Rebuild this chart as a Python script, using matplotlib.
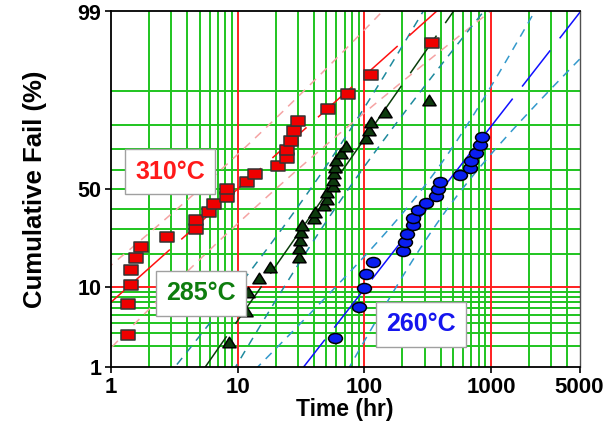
import matplotlib

matplotlib.use("Agg")
import matplotlib.pyplot as plt
import numpy as np
from matplotlib.path import Path as MPath
from matplotlib.ticker import NullLocator
from statistics import NormalDist

# --- data (time in hr, cumulative fail in %) ---
red_time = [1.37, 1.37, 1.45, 1.44, 1.57, 1.72, 2.79, 4.7, 4.7, 5.94, 6.47, 8.24, 8.24,
            11.9, 13.8, 21.0, 24.6, 24.6, 26.5, 28.1, 29.8, 51.8, 73.9, 113.5, 341]
red_pct = [2.8, 6.7, 10.6, 14.6, 18.5, 22.4, 26.4, 30.3, 34.3, 38.2, 42.1, 46.1, 50.0,
           53.9, 57.9, 61.8, 65.7, 69.7, 73.6, 77.6, 81.5, 85.4, 89.4, 93.3, 97.2]

grn_time = [8.54, 11.6, 12.0, 14.7, 17.9, 30.4, 30.4, 30.8, 31.7, 32.0, 40.2, 41.1, 48.4,
            50.5, 50.5, 56.3, 56.8, 58.0, 58.6, 59.8, 65.6, 71.8, 103, 109.5, 113, 145.5, 325]
grn_pct = [2.3, 5.6, 8.9, 12.2, 15.5, 18.8, 22.0, 25.3, 28.6, 31.9, 35.2, 38.5, 41.8,
           45.1, 48.4, 51.6, 54.9, 58.2, 61.5, 64.8, 68.1, 71.4, 74.7, 78.0, 81.2, 84.5, 87.8]

blu_time = [59.1, 90.2, 98.7, 103, 117.8, 203, 209, 217, 243, 243, 266, 306, 367, 383,
            399, 567, 679, 692, 762, 815, 845]
blu_pct = [2.6, 6.2, 9.9, 13.5, 17.2, 20.8, 24.5, 28.1, 31.8, 35.4, 39.1, 42.7, 46.4, 50.0,
           53.6, 57.3, 60.9, 64.6, 68.2, 71.9, 75.5]

# lognormal fits: median (hr), sigma (log10), bound half-width terms (log10)
red_fit = (9.95, 0.675, 0.30, 0.13)
grn_fit = (52.9, 0.421, 0.15, 0.08)
blu_fit = (411.0, 0.47, 0.158, 0.14)

labels = ["310°C", "285°C", "260°C"]

x_ticks = [1, 10, 100, 1000, 5000]
y_ticks = [1, 10, 50, 99]
x_grid_green = [2, 3, 4, 5, 6, 7, 8, 9, 20, 30, 40, 50, 60, 70, 80, 90,
                200, 300, 400, 500, 600, 700, 800, 900, 2000, 3000, 4000]
x_grid_red = [10, 100, 1000]
y_grid_green = [2, 3, 4, 5, 6, 7, 8, 9, 20, 30, 40, 50, 60, 70, 80, 90]
y_grid_red = [10]

ND = NormalDist()
_ppf = np.vectorize(ND.inv_cdf, otypes=[float])
_cdf = np.vectorize(ND.cdf, otypes=[float])


def fwd(p):
    p = np.clip(np.asarray(p, dtype=float) / 100.0, 1e-9, 1 - 1e-9)
    return _ppf(p)


def inv(z):
    return _cdf(np.asarray(z, dtype=float)) * 100.0


def fit_curve(fit, sign=0):
    median, sigma, a, b = fit
    z = np.linspace(-3.2, 3.2, 300)
    logx = np.log10(median) + sigma * z + sign * np.sqrt(a ** 2 + (b * z) ** 2)
    return 10 ** logx, inv(z)


def long_dash(lw, on=33, off=11):
    return (0, (on / lw, off / lw))


rect = MPath([(-1, -0.68), (1, -0.68), (1, 0.68), (-1, 0.68), (-1, -0.68)],
             [1, 2, 2, 2, 79])
tri = MPath([(0, 0.8), (-1, -0.8), (1, -0.8), (0, 0.8)], [1, 2, 2, 79])
circ = MPath.unit_circle()
ell = MPath(circ.vertices * np.array([1.0, 0.72]), circ.codes)

plt.rcParams["font.family"] = ["Liberation Sans", "DejaVu Sans"]
fig = plt.figure(figsize=(6.05, 4.23), dpi=100)
ax = fig.add_axes([111 / 605, 56 / 423, 468.5 / 605, 355.5 / 423])
ax.set_xscale("log")
ax.set_yscale("function", functions=(fwd, inv))
ax.set_xlim(1, 5000)
ax.set_ylim(1, 99)

GREEN = "#1fc41f"
RED = "#ff2020"
for v in x_grid_green:
    ax.axvline(v, color=GREEN, lw=1.4, zorder=1)
for v in y_grid_green:
    ax.axhline(v, color=GREEN, lw=1.4, zorder=1)
for v in x_grid_red:
    ax.axvline(v, color=RED, lw=1.4, zorder=1.5)
for v in y_grid_red:
    ax.axhline(v, color=RED, lw=1.4, zorder=1.5)

groups = [
    (red_time, red_pct, red_fit, "#ff1010", "#f5a3a3", rect, "#ee0000", "#333333", 10.5),
    (grn_time, grn_pct, grn_fit, "#0b3d0b", "#1f8a9e", tri, "#0d3a0d", "#000000", 9.5),
    (blu_time, blu_pct, blu_fit, "#1010ff", "#3399cc", ell, "#0a1ef0", "#000000", 10),
]
for t, p, fit, c_fit, c_bnd, mk, fc, ec, ms in groups:
    for sgn in (-1, 1):
        bx, by = fit_curve(fit, sgn)
        ax.plot(bx, by, color=c_bnd, lw=1.1, linestyle=(0, (5.5, 4.5)), zorder=2)
    fx, fy = fit_curve(fit)
    ax.plot(fx, fy, color=c_fit, lw=1.1, linestyle=long_dash(1.1), zorder=2.5)
    ax.plot(t, p, linestyle="none", marker=mk, markersize=ms, markerfacecolor=fc,
            markeredgecolor=ec, markeredgewidth=1.1, zorder=3)

ax.set_xticks(x_ticks)
ax.set_xticklabels([str(v) for v in x_ticks])
ax.xaxis.set_minor_locator(NullLocator())
ax.set_yticks(y_ticks)
ax.set_yticklabels([str(v) for v in y_ticks])
ax.yaxis.set_minor_locator(NullLocator())
ax.tick_params(axis="both", length=4, width=1.2, pad=3)
ax.tick_params(axis="x", labelsize=16)
ax.tick_params(axis="y", labelsize=15.5)
for lab in ax.get_xticklabels() + ax.get_yticklabels():
    lab.set_fontweight("bold")

for side in ("left", "bottom", "top"):
    ax.spines[side].set_color("black")
    ax.spines[side].set_linewidth(1.3)
    ax.spines[side].set_zorder(4)
ax.spines["right"].set_color("#505050")
ax.spines["right"].set_linewidth(1.0)

ax.set_xlabel("Time (hr)", fontsize=16.5, fontweight="bold", labelpad=0)
ax.set_ylabel("Cumulative Fail (%)", fontsize=18.5, fontweight="bold", labelpad=22)

box = dict(boxstyle="square,pad=0.42", fc="white", ec="#a0a0a0", lw=1)
text_pos = [(170, 172), (201, 293), (421, 324)]
text_col = ["#ff1a1a", "#0e7d0e", "#1515ee"]
for lab, (px, py), col in zip(labels, text_pos, text_col):
    fig.text(px / 605, 1 - py / 423, lab, color=col, fontsize=18, fontweight="bold",
             ha="center", va="center", bbox=box)

fig.savefig("out.png", dpi=100)
